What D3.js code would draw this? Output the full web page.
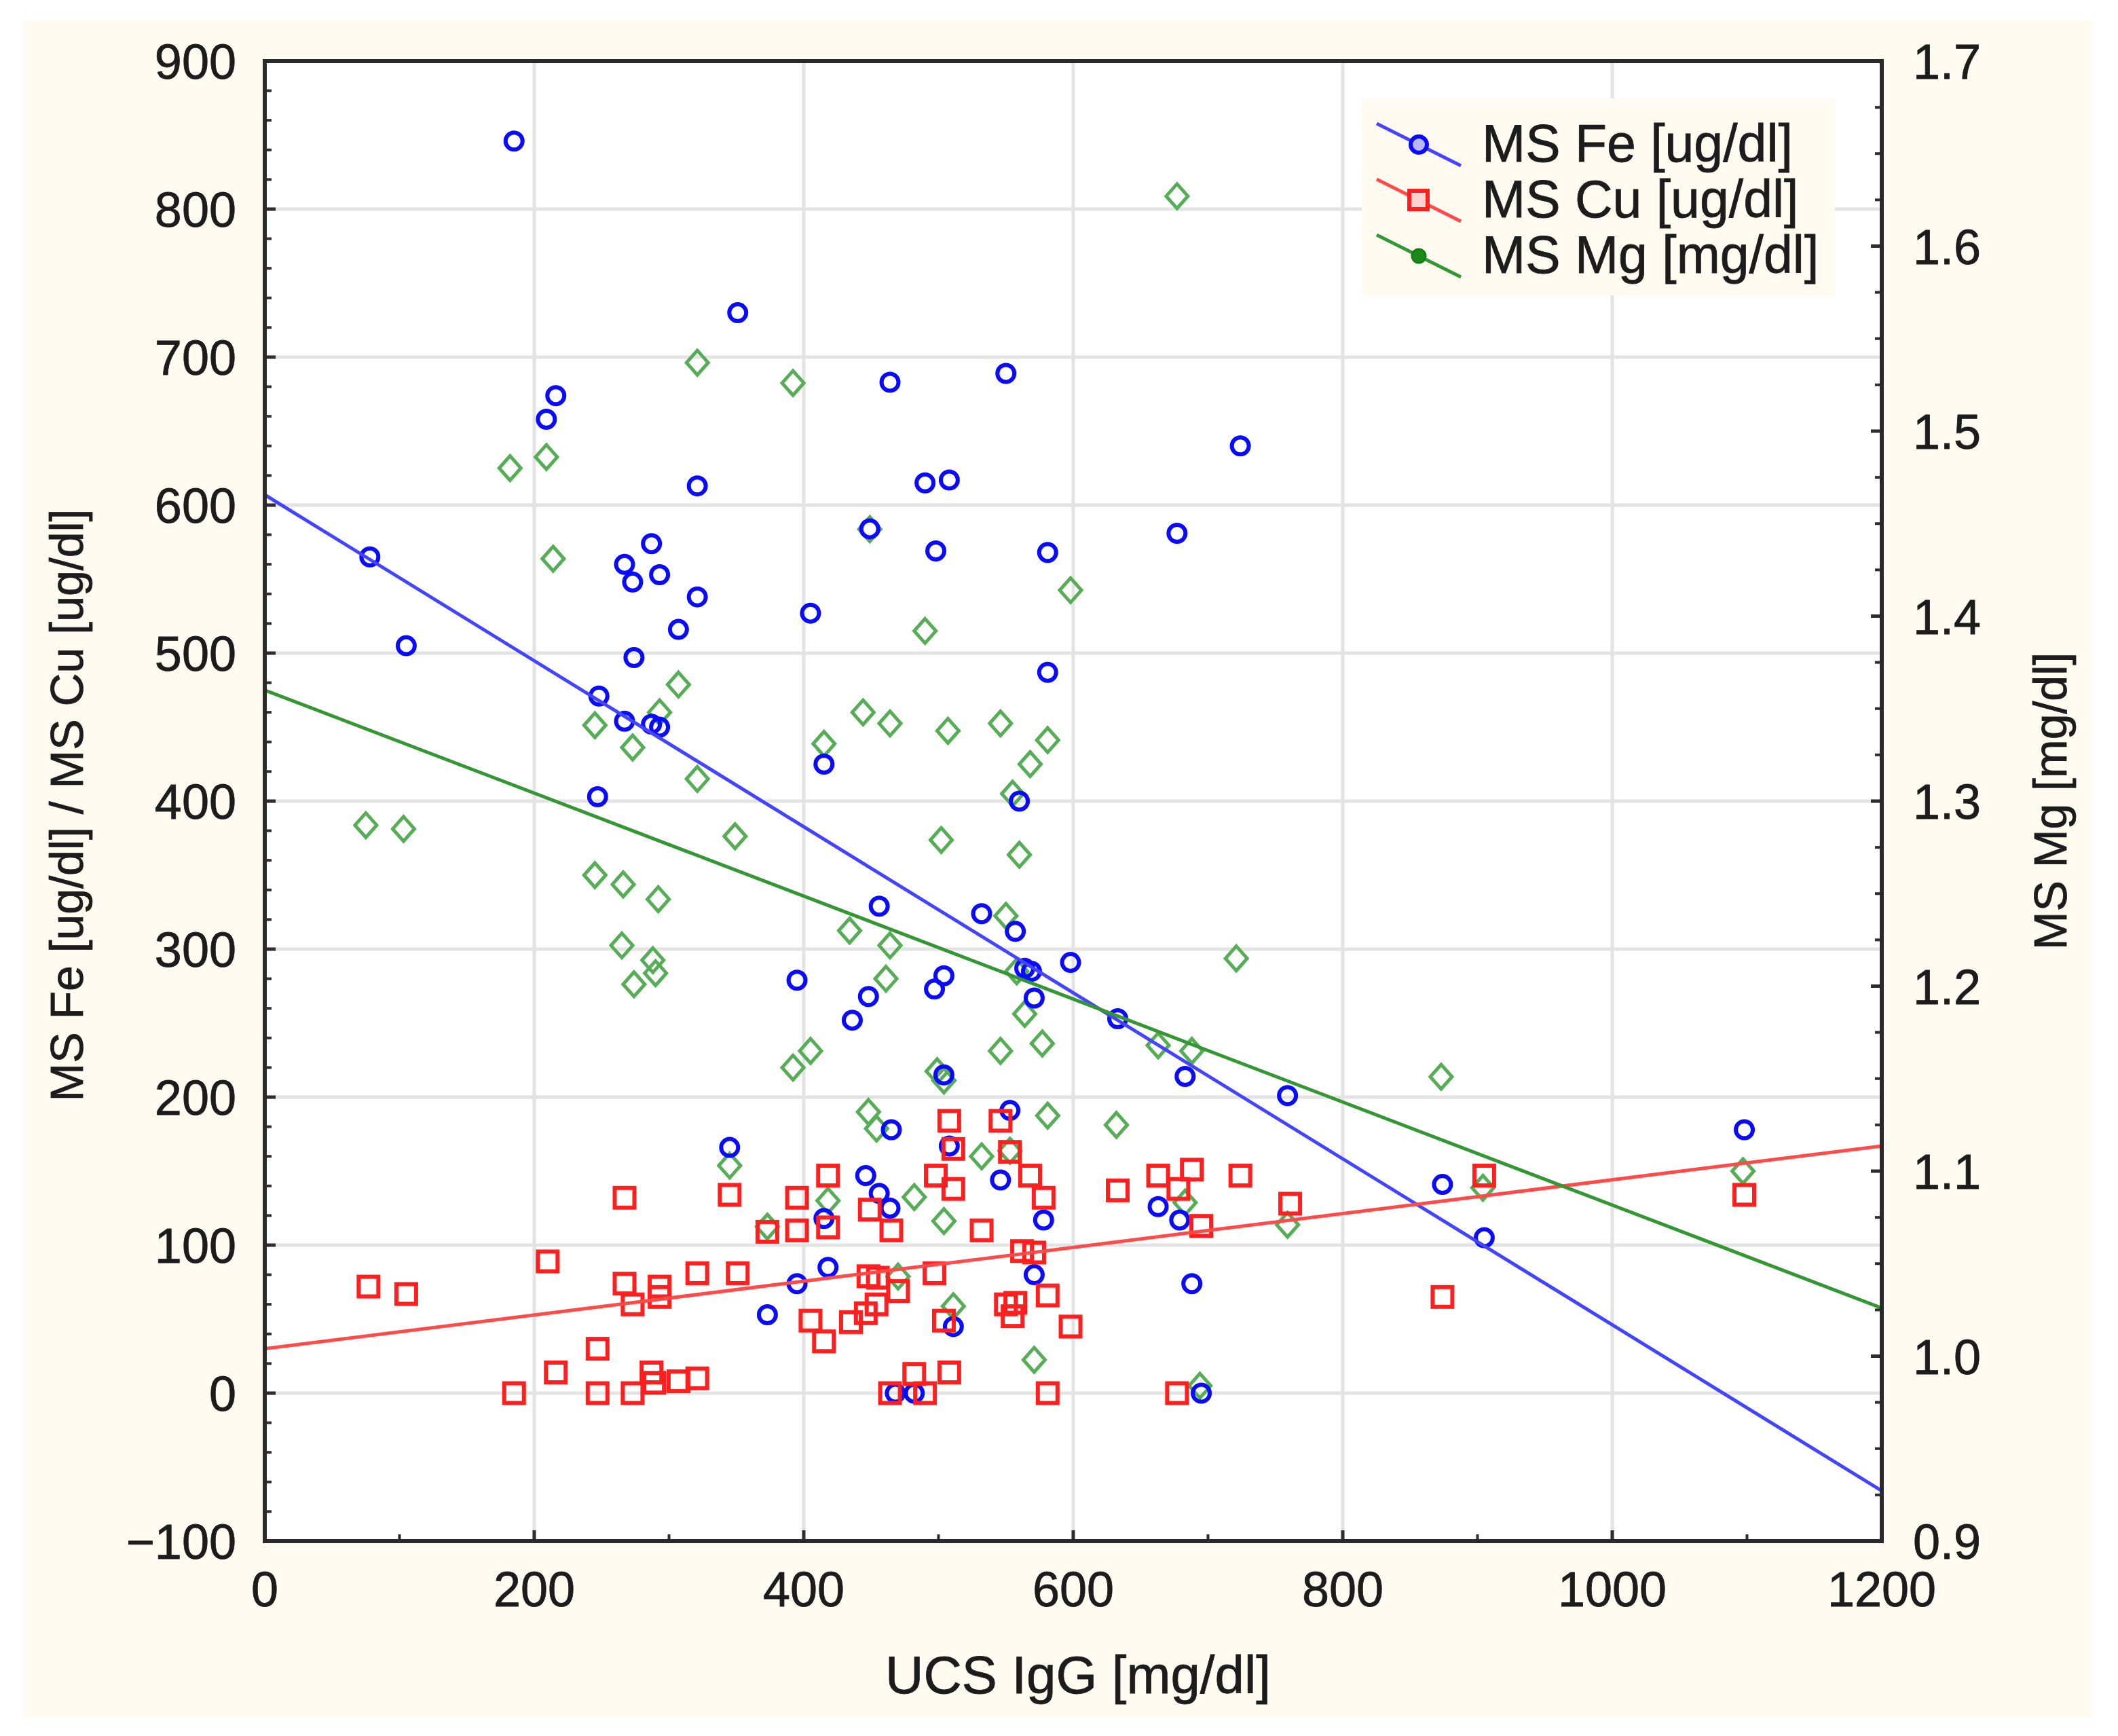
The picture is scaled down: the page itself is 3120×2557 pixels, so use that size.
<!DOCTYPE html>
<html>
<head>
<meta charset="utf-8">
<script src="https://cdn.jsdelivr.net/npm/d3@7"></script>
<style>
  body { margin: 0; background: #fff; }
  text { font-family: "Liberation Sans", Arial, sans-serif; fill: #1c1c1c; stroke: #1c1c1c; stroke-width: 0.8px; }
</style>
</head>
<body>
<script>
// UCS IgG [mg/dl] vs MS Fe / MS Cu (left axis) and MS Mg (right axis)
var feX = [185,78,105,209,216,351,321,267,273,287,293,321,307,274,248,267,287,293,247,345,373,395,395,405,415,418,415,436,448,449,446,456,456,464,465,464,468,482,490,508,498,497,504,504,508,511,550,546,553,557,560,564,569,571,571,581,581,578,532,598,633,677,683,663,679,688,695,724,759,874,905,1098];
var feY = [846,565,505,658,674,730,613,560,548,574,553,538,516,497,471,454,452,450,403,166,53,279,74,527,425,85,118,252,268,584,147,135,329,683,178,125,0,0,615,617,569,273,282,215,167,45,689,144,191,312,400,287,285,267,80,568,487,117,324,291,253,581,214,126,117,74,0,640,201,141,105,178];

var cuX = [77,105,185,210,216,247,247,267,267,273,273,287,289,293,293,307,321,321,345,351,373,395,395,405,415,418,418,435,446,448,449,454,455,464,465,470,482,490,497,498,504,508,508,511,511,532,546,550,553,555,557,562,568,571,578,581,581,598,633,663,677,678,688,695,724,761,874,905,1098];
var cuY = [72,67,0,89,14,30,0,132,74,60,0,14,7,72,65,8,10,81,134,81,109,132,110,49,35,147,112,48,54,79,124,60,78,0,110,69,13,0,81,147,49,184,14,165,138,110,184,60,163,52,61,96,147,95,132,66,0,45,137,147,0,138,151,113,147,128,65,147,134];

var mgX = [75,103,182,209,214,245,245,266,265,274,273,288,290,292,293,307,321,321,349,345,373,392,392,405,415,418,434,444,448,449,454,464,464,461,470,482,490,502,499,504,507,504,511,532,546,546,550,555,553,558,560,564,568,571,577,581,581,598,632,663,677,683,688,694,721,759,873,904,1097];
var mgY = [1.287,1.285,1.480,1.486,1.431,1.341,1.260,1.255,1.222,1.201,1.329,1.214,1.207,1.247,1.348,1.363,1.537,1.312,1.281,1.103,1.070,1.526,1.156,1.165,1.331,1.084,1.230,1.348,1.132,1.447,1.123,1.342,1.222,1.204,1.043,1.086,1.392,1.279,1.154,1.149,1.338,1.073,1.027,1.108,1.342,1.165,1.238,1.304,1.111,1.208,1.271,1.185,1.320,0.998,1.169,1.333,1.130,1.414,1.125,1.168,1.627,1.083,1.165,0.984,1.215,1.071,1.151,1.091,1.100];

// fitted lines, values at x = 0 and x = 1200
var fitX = [0, 1200];
var feFit = [607, -66];
var cuFit = [30, 167];
var mgFit = [1.360, 1.026];

var xTicks = [0,200,400,600,800,1000,1200];
var yTicks = [-100,0,100,200,300,400,500,600,700,800,900];
var y2Ticks = [0.9,1.0,1.1,1.2,1.3,1.4,1.5,1.6,1.7];

var seriesNames = ["MS Fe [ug/dl]", "MS Cu [ug/dl]", "MS Mg [mg/dl]"];
var seriesColors = ["#0a0aff", "#ff1f1f", "#55ad55"];
var lineColors = ["#4444ff", "#ff4a4a", "#349634"];

var W = 3120, H = 2557;
var L = 390, R = 2772, T = 90, B = 2270;

var svg = d3.select("body").append("svg")
    .attr("width", W)
    .attr("height", H);

svg.append("rect")
    .attr("x", 35).attr("y", 30)
    .attr("width", 3048).attr("height", 2500)
    .attr("fill", "#fffbf0");

var x = d3.scaleLinear().domain([0, 1200]).range([L, R]);
var y = d3.scaleLinear().domain([-100, 900]).range([B, T]);
var y2 = d3.scaleLinear().domain([0.9, 1.7]).range([B, T]);

svg.append("rect")
    .attr("x", L).attr("y", T)
    .attr("width", R - L).attr("height", B - T)
    .attr("fill", "#fff");

// grid
svg.append("g").selectAll("line")
    .data(xTicks.slice(1, -1))
    .enter().append("line")
    .attr("x1", function(d){ return x(d); })
    .attr("x2", function(d){ return x(d); })
    .attr("y1", T).attr("y2", B)
    .attr("stroke", "#e3e3e3").attr("stroke-width", 5);
svg.append("g").selectAll("line")
    .data(yTicks.slice(1, -1))
    .enter().append("line")
    .attr("y1", function(d){ return y(d); })
    .attr("y2", function(d){ return y(d); })
    .attr("x1", L).attr("x2", R)
    .attr("stroke", "#e3e3e3").attr("stroke-width", 5);

var plot = svg.append("g");
svg.append("clipPath").attr("id", "clip")
    .append("rect").attr("x", L).attr("y", T).attr("width", R - L).attr("height", B - T);
plot.attr("clip-path", "url(#clip)");

// Mg diamonds
plot.append("g").selectAll("path")
    .data(mgX)
    .enter().append("path")
    .attr("d", function(d, i) {
        var cx = x(d), cy = y2(mgY[i]), sx = 16, sy = 18;
        return "M" + cx + "," + (cy - sy) + "L" + (cx + sx) + "," + cy + "L" + cx + "," + (cy + sy) + "L" + (cx - sx) + "," + cy + "Z";
    })
    .attr("fill", "none")
    .attr("stroke", seriesColors[2])
    .attr("stroke-width", 5);

// Fe circles
plot.append("g").selectAll("circle")
    .data(feX)
    .enter().append("circle")
    .attr("cx", function(d){ return x(d); })
    .attr("cy", function(d, i){ return y(feY[i]); })
    .attr("r", 12.5)
    .attr("fill", "none")
    .attr("stroke", seriesColors[0])
    .attr("stroke-width", 6);

// Cu squares
plot.append("g").selectAll("rect")
    .data(cuX)
    .enter().append("rect")
    .attr("x", function(d){ return x(d) - 14.5; })
    .attr("y", function(d, i){ return y(cuY[i]) - 14.5; })
    .attr("width", 29).attr("height", 29)
    .attr("fill", "none")
    .attr("stroke", seriesColors[1])
    .attr("stroke-width", 6);

// fit lines
var fits = [
    {v: feFit, s: y, c: lineColors[0]},
    {v: cuFit, s: y, c: lineColors[1]},
    {v: mgFit, s: y2, c: lineColors[2]}
];
fits.forEach(function(f) {
    plot.append("line")
        .attr("x1", x(fitX[0])).attr("y1", f.s(f.v[0]))
        .attr("x2", x(fitX[1])).attr("y2", f.s(f.v[1]))
        .attr("stroke", f.c).attr("stroke-width", 5);
});

// axes with inward ticks
var fmt = function(d){ return d < 0 ? "\u2212" + Math.abs(d) : d; };

var xMinor = d3.range(100, 1200, 200);
var yMinor = d3.range(-100, 900, 20).filter(function(d){ return d % 100 != 0; });
var y2Minor = d3.range(0, 32).map(function(i){ return 0.9 + i * 0.025; }).filter(function(d, i){ return i % 4 != 0; });

var ax = svg.append("g").attr("stroke", "#2e2e2e");
xTicks.forEach(function(d){ ax.append("line").attr("x1", x(d)).attr("x2", x(d)).attr("y1", B).attr("y2", B - 16).attr("stroke-width", 5); });
xMinor.forEach(function(d){ ax.append("line").attr("x1", x(d)).attr("x2", x(d)).attr("y1", B).attr("y2", B - 10).attr("stroke-width", 4); });
yTicks.forEach(function(d){ ax.append("line").attr("y1", y(d)).attr("y2", y(d)).attr("x1", L).attr("x2", L + 16).attr("stroke-width", 5); });
yMinor.forEach(function(d){ ax.append("line").attr("y1", y(d)).attr("y2", y(d)).attr("x1", L).attr("x2", L + 10).attr("stroke-width", 4); });
y2Ticks.forEach(function(d){ ax.append("line").attr("y1", y2(d)).attr("y2", y2(d)).attr("x1", R).attr("x2", R - 16).attr("stroke-width", 5); });
y2Minor.forEach(function(d){ ax.append("line").attr("y1", y2(d)).attr("y2", y2(d)).attr("x1", R).attr("x2", R - 10).attr("stroke-width", 4); });

svg.append("rect")
    .attr("x", L).attr("y", T)
    .attr("width", R - L).attr("height", B - T)
    .attr("fill", "none")
    .attr("stroke", "#2a2a2a").attr("stroke-width", 6);

svg.append("g").selectAll("text")
    .data(xTicks)
    .enter().append("text")
    .attr("x", function(d){ return x(d); })
    .attr("y", 2366)
    .attr("text-anchor", "middle")
    .attr("font-size", "72px")
    .text(fmt);

svg.append("g").selectAll("text")
    .data(yTicks)
    .enter().append("text")
    .attr("x", 348)
    .attr("y", function(d){ return y(d) + 26; })
    .attr("text-anchor", "end")
    .attr("font-size", "72px")
    .text(fmt);

svg.append("g").selectAll("text")
    .data(y2Ticks)
    .enter().append("text")
    .attr("x", 2818)
    .attr("y", function(d){ return y2(d) + 26; })
    .attr("text-anchor", "start")
    .attr("font-size", "72px")
    .text(function(d){ return d.toFixed(1); });

// axis titles
svg.append("text")
    .attr("x", 1588).attr("y", 2494)
    .attr("text-anchor", "middle")
    .attr("font-size", "78px")
    .text("UCS IgG [mg/dl]");

svg.append("text")
    .attr("transform", "translate(122,1186) rotate(-90)")
    .attr("text-anchor", "middle")
    .attr("font-size", "68px")
    .text("MS Fe [ug/dl] / MS Cu [ug/dl]");

svg.append("text")
    .attr("transform", "translate(3044,1180) rotate(-90)")
    .attr("text-anchor", "middle")
    .attr("font-size", "68px")
    .text("MS Mg [mg/dl]");

// legend
var lg = svg.append("g");
lg.append("rect")
    .attr("x", 2006).attr("y", 145)
    .attr("width", 697).attr("height", 290)
    .attr("fill", "#fffbf0");

var rows = lg.selectAll("g.row")
    .data(seriesNames)
    .enter().append("g")
    .attr("class", "row")
    .attr("transform", function(d, i){ return "translate(0," + (212 + i * 82) + ")"; });

rows.append("line")
    .attr("x1", 2028).attr("y1", -30)
    .attr("x2", 2152).attr("y2", 32)
    .attr("stroke", function(d, i){ return lineColors[i]; })
    .attr("stroke-width", 5);

rows.each(function(d, i) {
    var g = d3.select(this);
    if (i == 0) {
        g.append("circle").attr("cx", 2090).attr("cy", 1).attr("r", 12)
            .attr("fill", "#b8b8ff").attr("stroke", seriesColors[0]).attr("stroke-width", 6);
    } else if (i == 1) {
        g.append("rect").attr("x", 2076).attr("y", -13).attr("width", 27).attr("height", 27)
            .attr("fill", "#ffd0d0").attr("stroke", seriesColors[1]).attr("stroke-width", 6);
    } else {
        g.append("circle").attr("cx", 2090).attr("cy", 1).attr("r", 10)
            .attr("fill", "#1a8a1a").attr("stroke", "#138013").attr("stroke-width", 3);
    }
});

rows.append("text")
    .attr("x", 2183).attr("y", 26)
    .attr("font-size", "77px")
    .text(function(d){ return d; });
</script>
</body>
</html>
